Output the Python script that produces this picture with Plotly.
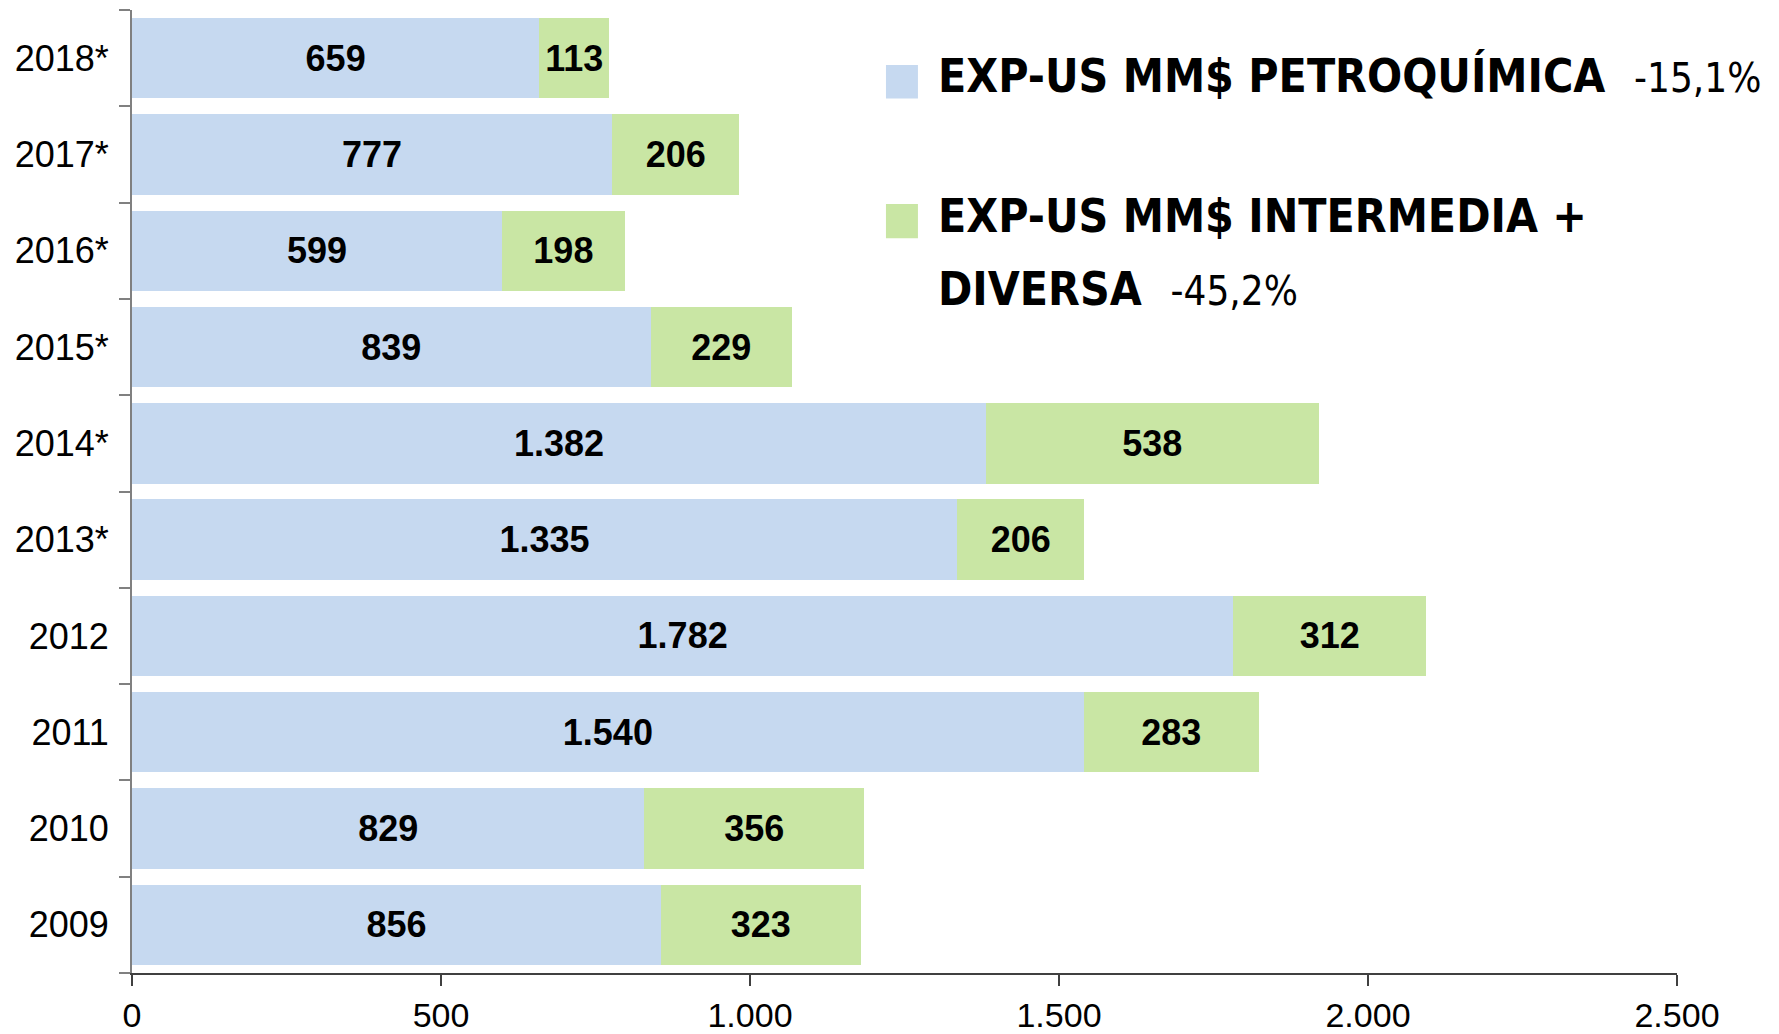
import plotly.graph_objects as go

# data (bottom to top)
years = ["2009", "2010", "2011", "2012", "2013*", "2014*", "2015*", "2016*", "2017*", "2018*"]
petroquimica = [856, 829, 1540, 1782, 1335, 1382, 839, 599, 777, 659]
intermedia = [323, 356, 283, 312, 206, 538, 229, 198, 206, 113]

x_ticks = [0, 500, 1000, 1500, 2000, 2500]

BLUE = "#C6D9F0"
GREEN = "#C9E6A4"
FONT = "Liberation Sans, Arial, sans-serif"
LEG_FONT = "DejaVu Sans Condensed, DejaVu Sans, sans-serif"

fig = go.Figure()
fig.add_trace(go.Bar(
    y=years, x=petroquimica, orientation="h", name="EXP-US MM$ PETROQUÍMICA",
    marker=dict(color=BLUE, line=dict(width=0)),
    texttemplate="%{x:,}", textposition="inside", insidetextanchor="middle",
    textfont=dict(family=FONT, size=36, color="black", weight="bold"),
    constraintext="none",
))
fig.add_trace(go.Bar(
    y=years, x=intermedia, orientation="h", name="EXP-US MM$ INTERMEDIA + DIVERSA",
    marker=dict(color=GREEN, line=dict(width=0)),
    texttemplate="%{x:,}", textposition="inside", insidetextanchor="middle",
    textfont=dict(family=FONT, size=36, color="black", weight="bold"),
    constraintext="none",
))

fig.update_layout(
    width=1779, height=1034,
    barmode="stack", bargap=0.165,
    separators=",.",
    showlegend=False,
    paper_bgcolor="white", plot_bgcolor="white",
    margin=dict(l=132, r=102, t=10, b=61),
    font=dict(family=FONT, color="black"),
)

fig.update_xaxes(
    range=[0, 2500], tickvals=x_ticks, tickformat=",",
    showgrid=False, zeroline=False, automargin=False,
    showline=True, linecolor="#404040", linewidth=2,
    ticks="outside", ticklen=11, tickcolor="#404040", tickwidth=1.5,
    tickfont=dict(size=34, family=FONT, color="black"),
)
fig.update_yaxes(
    categoryorder="array", categoryarray=years,
    showgrid=False, zeroline=False, automargin=False,
    showline=True, linecolor="#808080", linewidth=2,
    ticks="outside", ticklen=11, tickcolor="#808080", tickwidth=2,
    tickson="boundaries", ticklabelstandoff=14,
    tickfont=dict(size=36, family=FONT, color="black"),
)

# custom legend: swatches + labels
fig.add_shape(type="rect", xref="paper", yref="paper",
              x0=0.488, x1=0.5087, y0=0.908, y1=0.943,
              fillcolor=BLUE, line=dict(width=0))
fig.add_shape(type="rect", xref="paper", yref="paper",
              x0=0.488, x1=0.5087, y0=0.763, y1=0.7985,
              fillcolor=GREEN, line=dict(width=0))

big = dict(family=LEG_FONT, size=46, color="black", weight="bold")
pct = "<span style='font-size:40px;font-weight:normal'>%s</span>"
fig.add_annotation(xref="paper", yref="paper", x=0.5204, y=0.9315,
                   xanchor="left", yanchor="middle", showarrow=False,
                   text="EXP-US MM$ PETROQUÍMICA  " + pct % "-15,1%",
                   font=big)
fig.add_annotation(xref="paper", yref="paper", x=0.5204, y=0.786,
                   xanchor="left", yanchor="middle", showarrow=False,
                   text="EXP-US MM$ INTERMEDIA +", font=big)
fig.add_annotation(xref="paper", yref="paper", x=0.5204, y=0.710,
                   xanchor="left", yanchor="middle", showarrow=False,
                   text="DIVERSA  " + pct % "-45,2%",
                   font=big)

# drop the default page margin so the figure sits at the window origin
fig.write_html("out.html", config={"displayModeBar": False},
               post_script="document.body.style.margin='0';")
